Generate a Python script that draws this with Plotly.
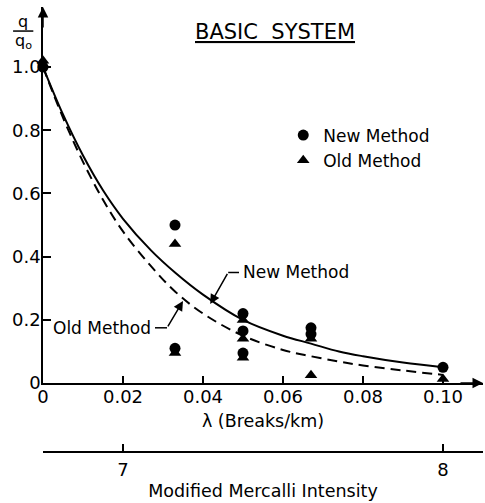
import plotly.graph_objects as go

# ---- data ----
new_lam = [0.0, 0.033, 0.033, 0.05, 0.05, 0.05, 0.067, 0.067, 0.10]
new_q = [1.00, 0.50, 0.11, 0.22, 0.165, 0.095, 0.175, 0.155, 0.05]

old_lam = [0.0, 0.033, 0.033, 0.05, 0.05, 0.05, 0.067, 0.067, 0.10]
old_q = [1.02, 0.44, 0.095, 0.20, 0.14, 0.08, 0.14, 0.025, 0.013]

curve_lam = [0.0, 0.005, 0.01, 0.015, 0.02, 0.027, 0.033, 0.04, 0.05,
             0.06, 0.067, 0.074, 0.08, 0.09, 0.10]
new_curve = [1.0, 0.85, 0.72, 0.61, 0.52, 0.42, 0.35, 0.28, 0.20,
             0.15, 0.125, 0.10, 0.085, 0.065, 0.05]
old_curve = [1.0, 0.84, 0.70, 0.58, 0.48, 0.37, 0.29, 0.22, 0.15,
             0.105, 0.085, 0.068, 0.056, 0.04, 0.026]

x_tickvals = [0, 0.02, 0.04, 0.06, 0.08, 0.10]
x_ticktext = ["0", "0.02", "0.04", "0.06", "0.08", "0.10"]
y_tickvals = [0, 0.2, 0.4, 0.6, 0.8, 1.0]
y_ticktext = ["0", "0.2", "0.4", "0.6", "0.8", "1.0"]
mmi_ticks = [7, 8]
mmi_labels = ["7", "8"]

FONT = "DejaVu Sans"
BLACK = "black"

fig = go.Figure()

fig.add_trace(go.Scatter(x=curve_lam, y=new_curve, mode="lines", line_shape="spline",
                         line=dict(color=BLACK, width=2), showlegend=False, hoverinfo="skip"))
fig.add_trace(go.Scatter(x=curve_lam, y=old_curve, mode="lines", line_shape="spline",
                         line=dict(color=BLACK, width=2, dash="10px,6px"),
                         showlegend=False, hoverinfo="skip"))
fig.add_trace(go.Scatter(x=new_lam, y=new_q, mode="markers", name="New Method",
                         marker=dict(symbol="circle", size=11, color=BLACK),
                         cliponaxis=False))
fig.add_trace(go.Scatter(x=old_lam, y=old_q, mode="markers", name="Old Method",
                         marker=dict(symbol="triangle-up", size=11, color=BLACK),
                         cliponaxis=False))
# secondary (Mercalli) axis carrier
fig.add_trace(go.Scatter(x=mmi_ticks, y=[None, None], xaxis="x2", mode="markers",
                         showlegend=False, hoverinfo="skip"))

fig.update_layout(
    width=485, height=503,
    margin=dict(l=43, r=2, t=7, b=5),
    paper_bgcolor="white", plot_bgcolor="white",
    font=dict(family=FONT, size=17, color=BLACK),
    xaxis=dict(range=[0, 0.11], showgrid=False, zeroline=False, showline=True,
               linecolor=BLACK, linewidth=1.5, ticks="inside", ticklen=7,
               tickwidth=1.5, tickcolor=BLACK, tickvals=x_tickvals,
               ticktext=x_ticktext, ticklabelstandoff=-3, tickfont=dict(size=18),
               title=dict(text="λ (Breaks/km)", standoff=8, font=dict(size=17.5)),
               automargin=False),
    yaxis=dict(range=[0, 1.19], domain=[0.234, 1], showgrid=False, zeroline=False,
               showline=True, linecolor=BLACK, linewidth=1.5, ticks="inside",
               ticklen=8, tickwidth=1.5, tickcolor=BLACK, tickvals=y_tickvals,
               ticktext=y_ticktext, tickfont=dict(size=18), ticklabelstandoff=-3,
               automargin=False),
    xaxis2=dict(overlaying="x", anchor="free", position=0.094, side="bottom",
                range=[6.75, 8.125], showgrid=False, zeroline=False, showline=True,
                linecolor=BLACK, linewidth=1.5, ticks="inside", ticklen=7,
                tickwidth=1.5, tickcolor=BLACK, tickvals=mmi_ticks,
                ticktext=mmi_labels, ticklabelstandoff=2, tickfont=dict(size=18),
                title=dict(text="Modified Mercalli Intensity", standoff=5,
                           font=dict(size=17.5)),
                automargin=False),
    legend=dict(x=0.546, y=0.775, xanchor="left", yanchor="top",
                bgcolor="rgba(0,0,0,0)", font=dict(size=17), tracegroupgap=0),
    showlegend=True,
)

# axis arrows
fig.add_annotation(x=0, y=1.19, ax=0, ay=1.12, xref="x", yref="y", axref="x", ayref="y",
                   text="", showarrow=True, arrowhead=2, arrowsize=1.4, arrowwidth=1.5,
                   arrowcolor=BLACK, standoff=0)
fig.add_annotation(x=0.11, y=0, ax=0.104, ay=0, xref="x", yref="y", axref="x", ayref="y",
                   text="", showarrow=True, arrowhead=2, arrowsize=1.4, arrowwidth=1.5,
                   arrowcolor=BLACK, standoff=0)

# title
fig.add_annotation(x=0.527, y=0.949, xref="paper", yref="paper", showarrow=False,
                   text="<u>BASIC\u00a0\u00a0SYSTEM</u>", font=dict(size=21, family=FONT),
                   xanchor="center", yanchor="middle")

# y-axis fraction label q / q_o
fig.add_annotation(x=-0.045, y=0.971, xref="paper", yref="paper", showarrow=False,
                   text="q", font=dict(size=16), xanchor="center", yanchor="middle")
fig.add_annotation(x=-0.045, y=0.929, xref="paper", yref="paper", showarrow=False,
                   text="q<sub>o</sub>", font=dict(size=16), xanchor="center",
                   yanchor="middle")
fig.add_shape(type="line", xref="paper", yref="paper", x0=-0.068, x1=-0.022,
              y0=0.951, y1=0.951, line=dict(color=BLACK, width=1.5))

# "New Method" curve label with bent leader
fig.add_annotation(x=0.0495, y=0.35, xref="x", yref="y", showarrow=False,
                   text="New Method", xanchor="left", yanchor="middle",
                   font=dict(size=17))
fig.add_shape(type="line", xref="x", yref="y", x0=0.0463, x1=0.049, y0=0.35, y1=0.35,
              line=dict(color=BLACK, width=1.5))
fig.add_annotation(x=0.0418, y=0.25, ax=0.0463, ay=0.35, xref="x", yref="y",
                   axref="x", ayref="y", text="", showarrow=True, arrowhead=2,
                   arrowsize=1.3, arrowwidth=1.5, arrowcolor=BLACK, standoff=0)

# "Old Method" curve label with bent leader
fig.add_annotation(x=0.0275, y=0.175, xref="x", yref="y", showarrow=False,
                   text="Old Method", xanchor="right", yanchor="middle",
                   font=dict(size=17))
fig.add_shape(type="line", xref="x", yref="y", x0=0.028, x1=0.031, y0=0.175, y1=0.175,
              line=dict(color=BLACK, width=1.5))
fig.add_annotation(x=0.035, y=0.26, ax=0.031, ay=0.175, xref="x", yref="y",
                   axref="x", ayref="y", text="", showarrow=True, arrowhead=2,
                   arrowsize=1.3, arrowwidth=1.5, arrowcolor=BLACK, standoff=0)

fig.write_html("out.html", config={"displayModeBar": False},
               post_script="document.body.style.margin='0px';")
